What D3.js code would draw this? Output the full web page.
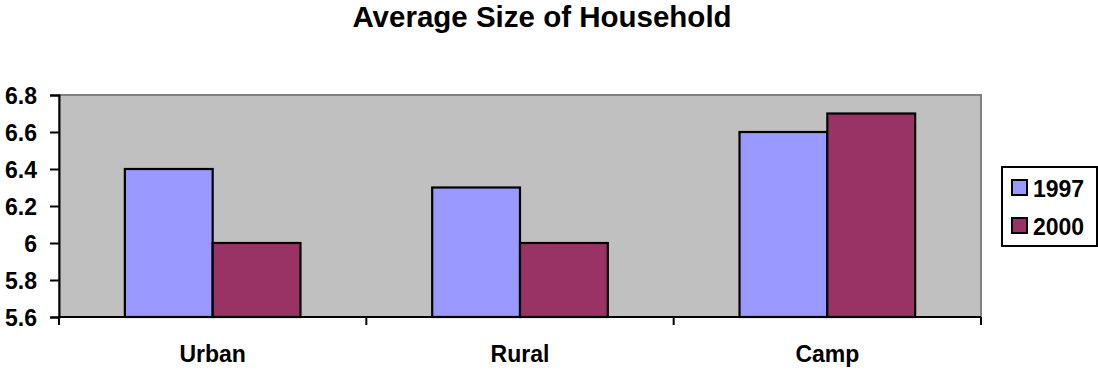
<!DOCTYPE html>
<html>
<head>
<meta charset="utf-8">
<script src="https://cdn.jsdelivr.net/npm/d3@7"></script>
<style>
  html, body { margin: 0; padding: 0; background: #fff; }
  svg { display: block; font-family: "Liberation Sans", Arial, sans-serif; font-weight: bold; }
</style>
</head>
<body>
<svg id="chart" width="1098" height="370"></svg>
<script>
// Household size by locality, two survey years
const categories = ["Urban", "Rural", "Camp"];
const seriesNames = ["1997", "2000"];
const values1997 = [6.4, 6.3, 6.6];
const values2000 = [6.0, 6.0, 6.7];
const yTicks = [5.6, 5.8, 6.0, 6.2, 6.4, 6.6, 6.8];
const seriesColors = ["#9999FF", "#993366"];

const svg = d3.select("#chart");
const plot = { left: 59, right: 981, top: 95, bottom: 317 };

const x = d3.scaleBand().domain(categories).range([plot.left, plot.right]);
// Excel-style 150% gap width: two bars take 2/3.5 of a band
const barW = x.bandwidth() / 3.5;
const y = d3.scaleLinear().domain([5.6, 6.8]).range([plot.bottom, plot.top]);

// Title
svg.append("text")
  .attr("x", 542).attr("y", 27)
  .attr("text-anchor", "middle")
  .attr("font-size", 29.5)
  .text("Average Size of Household");

// Plot background with grey border
svg.append("rect")
  .attr("x", plot.left).attr("y", plot.top)
  .attr("width", plot.right - plot.left).attr("height", plot.bottom - plot.top)
  .attr("fill", "#C0C0C0").attr("stroke", "#808080").attr("stroke-width", 2);

// Bars
const series = [values1997, values2000];
series.forEach((vals, si) => {
  svg.append("g").selectAll("rect")
    .data(categories.map((c, i) => ({ c, v: vals[i] })))
    .join("rect")
    .attr("x", d => x(d.c) + x.bandwidth() / 2 - barW + si * barW)
    .attr("y", d => y(d.v))
    .attr("width", barW)
    .attr("height", d => y(5.6) - y(d.v))
    .attr("fill", seriesColors[si])
    .attr("stroke", "#000").attr("stroke-width", 2.2);
});

// Y axis
const yAxis = d3.axisLeft(y).tickValues(yTicks).tickSize(9).tickPadding(13)
  .tickFormat(d => d3.format("")(+d.toFixed(1)));
const yg = svg.append("g").attr("transform", `translate(${plot.left},0)`).call(yAxis);
yg.select(".domain").attr("stroke", "#000").attr("stroke-width", 2);
yg.selectAll(".tick line").attr("stroke", "#000").attr("stroke-width", 2);
yg.selectAll(".tick text")
  .attr("font-size", 23).attr("font-family", "Liberation Sans, Arial, sans-serif")
  .attr("font-weight", "bold").attr("fill", "#000").attr("dy", "0.36em");

// X axis: line with ticks at category boundaries
svg.append("line")
  .attr("x1", plot.left).attr("x2", plot.right)
  .attr("y1", plot.bottom).attr("y2", plot.bottom)
  .attr("stroke", "#000").attr("stroke-width", 2);
const bounds = categories.map(c => x(c)).concat([x(categories[categories.length - 1]) + x.bandwidth()]);
svg.append("g").selectAll("line").data(bounds).join("line")
  .attr("x1", d => d).attr("x2", d => d)
  .attr("y1", plot.bottom).attr("y2", plot.bottom + 8)
  .attr("stroke", "#000").attr("stroke-width", 2);
svg.append("g").selectAll("text").data(categories).join("text")
  .attr("x", d => x(d) + x.bandwidth() / 2)
  .attr("y", 362)
  .attr("text-anchor", "middle")
  .attr("font-size", 23)
  .text(d => d);

// Legend
const lg = svg.append("g");
lg.append("rect")
  .attr("x", 1002).attr("y", 167).attr("width", 95).attr("height", 79)
  .attr("fill", "#fff").attr("stroke", "#000").attr("stroke-width", 2);
seriesNames.forEach((name, i) => {
  const yy = 180 + i * 38;
  lg.append("rect")
    .attr("x", 1012).attr("y", yy).attr("width", 15).attr("height", 15)
    .attr("fill", seriesColors[i]).attr("stroke", "#000").attr("stroke-width", 2);
  lg.append("text")
    .attr("x", 1033).attr("y", yy + 17)
    .attr("font-size", 23)
    .text(name);
});
</script>
</body>
</html>
